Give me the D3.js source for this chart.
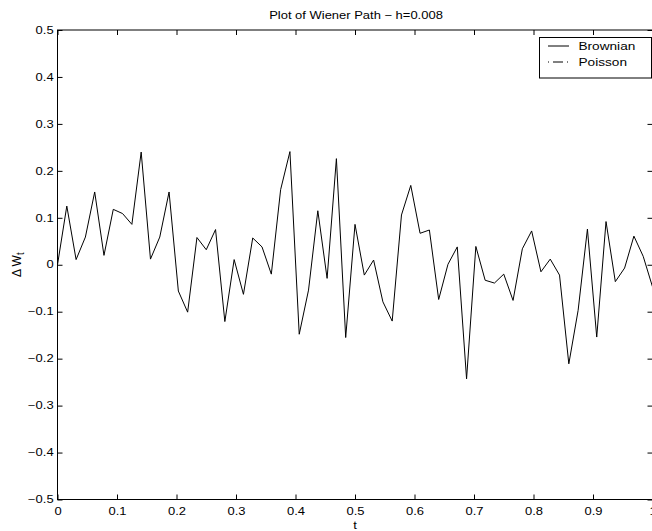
<!DOCTYPE html>
<html>
<head>
	<meta charset="utf-8">
	<title>Plot of Wiener Path</title>
	<script type="text/javascript" src="https://cdn.jsdelivr.net/npm/d3@7"></script>
	<style type="text/css">
		body {
			margin: 0;
			background: #fff;
		}
		text {
			font-family: "Liberation Sans", Arial, Helvetica, sans-serif;
			fill: #000;
		}
	</style>
</head>
<body>
	<div id="svgdiv"></div>

	<script type="text/javascript">
		// data: increments dW at t = k/64, k = 0..64
		var dW = [
			0.000, 0.125, 0.011, 0.059, 0.155, 0.020, 0.118, 0.109, 0.086, 0.240,
			0.012, 0.059, 0.155, -0.056, -0.101, 0.058, 0.032, 0.075, -0.121, 0.011,
			-0.063, 0.057, 0.038, -0.020, 0.160, 0.241, -0.148, -0.054, 0.115, -0.029,
			0.226, -0.155, 0.086, -0.022, 0.010, -0.079, -0.120, 0.106, 0.169, 0.067,
			0.074, -0.074, 0.001, 0.038, -0.243, 0.039, -0.033, -0.039, -0.020, -0.076,
			0.034, 0.072, -0.015, 0.012, -0.022, -0.211, -0.097, 0.076, -0.154, 0.092,
			-0.036, -0.007, 0.061, 0.018, -0.047
		];
		var xTicks = [0, 0.1, 0.2, 0.3, 0.4, 0.5, 0.6, 0.7, 0.8, 0.9, 1];
		var yTicks = [-0.5, -0.4, -0.3, -0.2, -0.1, 0, 0.1, 0.2, 0.3, 0.4, 0.5];
		var legendNames = ["Brownian", "Poisson"];
		var titleText = "Plot of Wiener Path \u2212 h=0.008";

		// size of the picture and of the axes box
		// (no global called "top": window.top is read-only)
		var w = 652;
		var h = 531;
		var boxL = 57.5, boxR = 652.5, boxT = 30, boxB = 499.5;
		var sx = 1.3; // the text of the figure is stretched sideways

		var svg = d3.select("#svgdiv")
					.append("svg")
					.attr("width", w)
					.attr("height", h);

		var xscale = d3.scaleLinear().domain([0, 1]).range([boxL, boxR]);
		var yscale = d3.scaleLinear().domain([-0.5, 0.5]).range([boxB, boxT]);
		var fmt = d3.format("~g");

		// axes, ticks pointing inwards on all four sides
		var bottomAxis = d3.axisBottom(xscale).tickValues(xTicks).tickFormat(fmt)
							.tickSizeInner(-5).tickSizeOuter(0).tickPadding(8.5);
		var topAxis = d3.axisTop(xscale).tickValues(xTicks).tickFormat("")
							.tickSizeInner(-5).tickSizeOuter(0);
		var leftAxis = d3.axisLeft(yscale).tickValues(yTicks).tickFormat(fmt)
							.tickSizeInner(-5).tickSizeOuter(0).tickPadding(3);
		var rightAxis = d3.axisRight(yscale).tickValues(yTicks).tickFormat("")
							.tickSizeInner(-5).tickSizeOuter(0);

		svg.append("g").attr("transform", "translate(0," + boxB + ")").call(bottomAxis);
		svg.append("g").attr("transform", "translate(0," + boxT + ")").call(topAxis);
		svg.append("g").attr("transform", "translate(" + boxL + ",0)").call(leftAxis);
		svg.append("g").attr("transform", "translate(" + boxR + ",0)").call(rightAxis);

		svg.selectAll(".domain").remove();
		svg.selectAll(".tick line").attr("stroke", "#000").attr("stroke-width", 1);
		svg.selectAll(".tick text")
			.attr("font-size", 10)
			.attr("transform", "scale(" + sx + ",1)");

		// box round the axes
		svg.append("rect")
			.attr("x", boxL)
			.attr("y", boxT)
			.attr("width", boxR - boxL)
			.attr("height", boxB - boxT)
			.attr("fill", "none")
			.attr("stroke", "#000")
			.attr("stroke-width", 1);

		// the Brownian path
		var line = d3.line()
					.x(function(d, i) { return xscale(i / (dW.length - 1)); })
					.y(function(d) { return yscale(d); });

		svg.append("path")
			.datum(dW)
			.attr("d", line)
			.attr("fill", "none")
			.attr("stroke", "#000")
			.attr("stroke-width", 1);

		// title and axis names
		svg.append("text")
			.attr("transform", "translate(" + 356 + ",19) scale(1.18,1)")
			.attr("text-anchor", "middle")
			.attr("font-size", 11)
			.text(titleText);

		svg.append("text")
			.attr("transform", "translate(" + ((boxL + boxR) / 2) + ",529) scale(" + sx + ",1)")
			.attr("text-anchor", "middle")
			.attr("font-size", 10)
			.text("t");

		var ylab = svg.append("text")
			.attr("transform", "translate(21," + ((boxT + boxB) / 2) + ") rotate(-90) scale(1.2,1.25)")
			.attr("text-anchor", "middle")
			.attr("font-size", 10);
		ylab.append("tspan").text("\u0394 W");
		ylab.append("tspan").attr("font-size", 8).attr("dy", 2.5).text("t");

		// legend
		var legend = svg.append("g");
		legend.append("rect")
			.attr("x", 539.5)
			.attr("y", 37.5)
			.attr("width", 112)
			.attr("height", 40.5)
			.attr("fill", "#fff")
			.attr("stroke", "#000")
			.attr("stroke-width", 1);

		var dashes = [null, "1,4,10,4"];
		var rows = legend.selectAll("g.row")
						.data(legendNames)
						.enter()
						.append("g")
						.attr("class", "row")
						.attr("transform", function(d, i) { return "translate(0," + (46 + i * 16) + ")"; });

		rows.append("line")
			.attr("x1", 548)
			.attr("x2", 569)
			.attr("stroke", "#000")
			.attr("stroke-width", 1)
			.attr("stroke-dasharray", function(d, i) { return dashes[i]; });

		rows.append("text")
			.attr("transform", "translate(578.5,4) scale(1.24,1)")
			.attr("font-size", 11)
			.text(function(d) { return d; });
	</script>
</body>
</html>
